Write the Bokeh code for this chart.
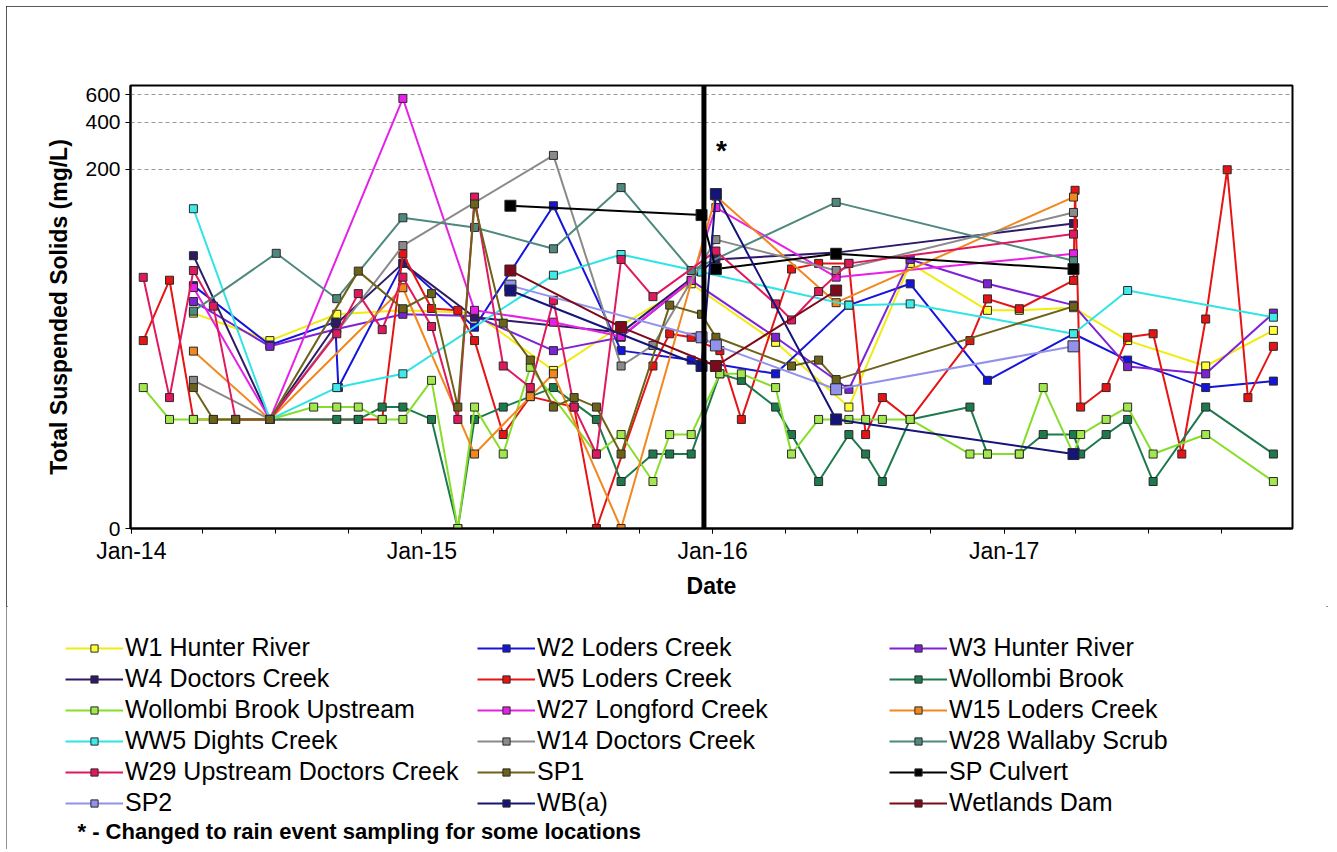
import datetime as dt
import pandas as pd
from bokeh.plotting import figure
from bokeh.layouts import column
from bokeh.models import (ColumnDataSource, Range1d, FixedTicker, DatetimeTickFormatter,
                          Span, Label, Legend, LegendItem, NumeralTickFormatter)
from bokeh.embed import file_html
from bokeh.resources import INLINE

# ---------------- data (TSS mg/L; 0 = below detection, drawn on the "0" baseline) -------------
w1_dates = ["2014-03-20", "2014-06-24", "2014-09-16", "2014-12-08", "2015-03-08", "2015-06-15",
            "2015-09-08", "2015-12-05", "2016-03-20", "2016-06-20", "2016-09-05", "2016-12-11",
            "2017-01-20", "2017-03-29", "2017-06-05", "2017-09-11", "2017-12-05"]
w1_tss = [24, 16, 23.6, 25, 24, 10.3, 20, 37, 15.6, 6, 50, 25, 25, 26, 16, 11, 18.6]

w2_dates = ["2014-03-20", "2014-06-24", "2014-09-14", "2014-09-18", "2014-12-08", "2015-03-08",
            "2015-06-15", "2015-09-08", "2015-12-05", "2016-03-20", "2016-06-20", "2016-09-05",
            "2016-12-11", "2017-03-29", "2017-06-05", "2017-09-11", "2017-12-05"]
w2_tss = [36, 15, 21, 8, 50, 19.5, 117, 13.8, 12, 9.8, 27, 37, 8.9, 17.7, 12, 8, 8.8]

w3_dates = ["2014-03-20", "2014-06-24", "2014-09-16", "2014-12-08", "2015-03-08", "2015-06-15",
            "2015-09-08", "2015-12-05", "2016-03-20", "2016-06-20", "2016-09-05", "2016-12-11",
            "2017-03-29", "2017-06-05", "2017-09-11", "2017-12-05"]
w3_tss = [28.5, 14.7, 19, 23.6, 23, 13.8, 16.8, 38.9, 16.8, 7.8, 53, 37, 27, 10.9, 9.8, 24]

w4_dates = ["2014-03-20", "2014-06-24", "2014-09-16", "2014-12-08", "2015-03-08", "2015-09-08",
            "2016-01-05", "2016-06-04", "2017-03-29"]
w4_tss = [56, 5, 20.6, 50, 22.6, 18, 53, 58.6, 90]

w5_dates = ["2014-01-16", "2014-02-18", "2014-03-20", "2014-06-24", "2014-10-13", "2014-11-12",
            "2014-12-08", "2015-01-13", "2015-02-15", "2015-03-08", "2015-04-13", "2015-05-17",
            "2015-07-11", "2015-08-08", "2015-10-18", "2015-11-08", "2015-12-05", "2016-01-10",
            "2016-02-06", "2016-04-09", "2016-05-13", "2016-06-20", "2016-07-11", "2016-08-01",
            "2016-09-05", "2016-11-19", "2016-12-11", "2017-01-20", "2017-03-29", "2017-03-31",
            "2017-04-07", "2017-05-09", "2017-06-05", "2017-07-07", "2017-08-12", "2017-09-11",
            "2017-10-08", "2017-11-03", "2017-12-05"]
w5_tss = [16, 39, 5, 5, 5, 5, 57.6, 25.7, 25, 16, 4, 7, 6, 0, 11, 17.7, 16.8, 13.8, 5, 46, 50, 50,
          4, 6.9, 5, 16, 29.6, 25.6, 38.9, 147, 6, 8, 16.8, 17.7, 3, 22, 199, 6.9, 14.7]

wb_dates = ["2014-06-24", "2014-09-16", "2014-10-13", "2014-11-12", "2014-12-08", "2015-01-13",
            "2015-02-15", "2015-03-08", "2015-04-13", "2015-06-15", "2015-08-08", "2015-09-08",
            "2015-10-18", "2015-11-08", "2015-12-05", "2016-01-10", "2016-02-06", "2016-03-20",
            "2016-04-09", "2016-05-13", "2016-06-20", "2016-07-11", "2016-08-01", "2016-09-05",
            "2016-11-19", "2016-12-11", "2017-01-20", "2017-02-19", "2017-03-29", "2017-04-07",
            "2017-05-09", "2017-06-05", "2017-07-07", "2017-09-11", "2017-12-05"]
wb_tss = [5, 5, 5, 6, 6, 5, 0, 5, 6, 8, 5, 2, 3, 3, 3, 9.8, 8.9, 6, 4, 2, 4, 3, 2, 5, 6, 3, 3, 4,
          4, 3, 4, 5, 2, 6, 3]

wbu_dates = ["2014-01-16", "2014-02-18", "2014-03-20", "2014-04-14", "2014-05-12", "2014-06-24",
             "2014-08-18", "2014-09-16", "2014-10-13", "2014-11-12", "2014-12-08", "2015-01-13",
             "2015-02-15", "2015-03-08", "2015-04-13", "2015-05-17", "2015-08-08", "2015-09-08",
             "2015-10-18", "2015-11-08", "2015-12-05", "2016-01-10", "2016-02-06", "2016-03-20",
             "2016-04-09", "2016-05-13", "2016-06-20", "2016-07-11", "2016-08-01", "2016-09-05",
             "2016-11-19", "2016-12-11", "2017-01-20", "2017-02-19", "2017-03-29", "2017-04-07",
             "2017-05-09", "2017-06-05", "2017-07-07", "2017-09-11", "2017-12-05"]
wbu_tss = [8, 5, 5, 5, 5, 5, 6, 6, 6, 5, 5, 8.9, 0, 6, 3, 10.8, 3, 4, 2, 4, 4, 9.8, 9.8, 8, 3, 5,
           5, 5, 5, 5, 3, 3, 3, 8, 3, 4, 5, 6, 3, 4, 2]

w27_dates = ["2014-03-20", "2014-06-24", "2014-12-08", "2015-03-08", "2015-06-15", "2015-09-08",
             "2015-12-05", "2016-01-05", "2016-06-04", "2017-03-29"]
w27_tss = [35, 5, 570, 25, 21, 17, 38.9, 114, 40.8, 57.6]

w15_dates = ["2014-03-20", "2014-06-24", "2014-12-08", "2015-03-08", "2015-05-17", "2015-06-15",
             "2015-09-08", "2016-01-05", "2016-06-04", "2017-03-29"]
w15_tss = [13.7, 5, 34.9, 3, 7, 9.8, 0, 135, 28, 133]

ww5_dates = ["2014-03-20", "2014-06-24", "2014-09-16", "2014-12-08", "2015-06-15", "2015-09-08",
             "2015-12-18", "2016-06-20", "2016-09-05", "2017-03-29", "2017-06-05", "2017-12-05"]
ww5_tss = [112, 5, 8, 9.8, 42, 57, 44, 27, 27.5, 17.7, 33.5, 22.6]

w14_dates = ["2014-03-20", "2014-06-24", "2014-12-08", "2015-06-15", "2015-09-08", "2015-10-18",
             "2016-01-05", "2016-06-04", "2017-03-29"]
w14_tss = [8.9, 5, 65, 246, 11, 14.9, 71, 45, 106]

w28_dates = ["2014-03-20", "2014-07-02", "2014-09-16", "2014-12-08", "2015-03-08", "2015-06-15",
             "2015-09-08", "2015-12-05", "2016-06-04", "2017-03-29"]
w28_tss = [24.7, 58, 29.7, 98, 85, 62, 153, 45, 123, 52]

w29_dates = ["2014-01-16", "2014-02-18", "2014-03-20", "2014-04-14", "2014-05-12", "2014-06-24",
             "2014-09-16", "2014-10-13", "2014-11-12", "2014-12-08", "2015-01-13", "2015-02-15",
             "2015-03-08", "2015-04-13", "2015-05-17", "2015-06-15", "2015-07-11", "2015-08-08",
             "2015-09-08", "2015-10-18", "2016-01-05", "2016-03-20", "2016-04-09", "2016-05-13",
             "2016-06-20", "2017-03-29"]
w29_tss = [40.7, 6.9, 45, 26.6, 5, 5, 17.7, 32, 18.8, 40.8, 19.7, 5, 133, 11, 8, 29, 6, 3, 53,
           30.6, 60, 27.5, 21.7, 33, 50, 77]

sp1_dates = ["2014-03-20", "2014-04-14", "2014-05-12", "2014-06-24", "2014-10-13", "2014-12-08",
             "2015-01-13", "2015-02-15", "2015-03-08", "2015-04-13", "2015-05-17", "2015-06-15",
             "2015-07-11", "2015-08-08", "2015-09-08", "2015-11-08", "2015-12-18", "2016-01-05",
             "2016-04-09", "2016-05-13", "2016-06-04", "2017-03-29"]
sp1_tss = [8, 5, 5, 5, 44.6, 25.6, 32, 6, 120, 20.7, 12, 6, 6.9, 6, 3, 27, 23.6, 16.8, 11, 12, 9,
           26.5]

spc_dates = ["2015-04-22", "2015-12-18", "2016-01-05", "2016-06-04", "2017-03-29"]
spc_tss = [117, 102, 46, 57.6, 46]

sp2_dates = ["2015-04-22", "2015-12-18", "2016-01-05", "2016-06-04", "2017-03-29"]
sp2_tss = [36, 16.8, 14.9, 7.8, 14.7]

wba_dates = ["2015-04-22", "2015-12-18", "2016-01-05", "2016-06-04", "2017-03-29"]
wba_tss = [33.5, 11, 139, 5, 3]

wd_dates = ["2015-04-22", "2015-09-08", "2016-01-05", "2016-06-04"]
wd_tss = [45, 19.5, 11, 33.5]

# name, dates, values, line colour, marker fill, marker size
series = [
    ("W1 Hunter River", w1_dates, w1_tss, "#F0EC10", "#FFFF38", 8),
    ("W2 Loders Creek", w2_dates, w2_tss, "#1414DC", "#1414DC", 8),
    ("W3 Hunter River", w3_dates, w3_tss, "#7E22D6", "#7E22D6", 8),
    ("W4 Doctors Creek", w4_dates, w4_tss, "#2E1A66", "#2E1A66", 8),
    ("W5 Loders Creek", w5_dates, w5_tss, "#E61414", "#E61414", 8),
    ("Wollombi Brook", wb_dates, wb_tss, "#1E7A4C", "#1E7A4C", 8),
    ("Wollombi Brook Upstream", wbu_dates, wbu_tss, "#86DE2A", "#A2E84C", 8),
    ("W27 Longford Creek", w27_dates, w27_tss, "#E621E6", "#E621E6", 8),
    ("W15 Loders Creek", w15_dates, w15_tss, "#F2871E", "#F2871E", 8),
    ("WW5 Dights Creek", ww5_dates, ww5_tss, "#2EE4E4", "#3EEAEA", 8),
    ("W14 Doctors Creek", w14_dates, w14_tss, "#8A8A8A", "#8A8A8A", 8),
    ("W28 Wallaby Scrub", w28_dates, w28_tss, "#4E887E", "#4E887E", 8),
    ("W29 Upstream Doctors Creek", w29_dates, w29_tss, "#E0185E", "#E0185E", 8),
    ("SP1", sp1_dates, sp1_tss, "#6C6218", "#6C6218", 8),
    ("SP Culvert", spc_dates, spc_tss, "#000000", "#000000", 11),
    ("SP2", sp2_dates, sp2_tss, "#9292EC", "#9292EC", 11),
    ("WB(a)", wba_dates, wba_tss, "#14147A", "#14147A", 11),
    ("Wetlands Dam", wd_dates, wd_tss, "#7C0A1A", "#7C0A1A", 11),
]

tick_years = [2014, 2015, 2016, 2017]
y_ticks = [1, 200, 400, 600]
y_tick_labels = ["0", "200", "400", "600"]
change_date = "2015-12-21"
footnote = "* - Changed to rain event sampling for some locations"

# ---------------- chart -------------------------------------------------------------
FONT = "Liberation Sans"
EPOCH = dt.datetime(1970, 1, 1)


def ms(d):
    return (d - EPOCH).total_seconds() * 1000.0


p = figure(width=1322, height=600, x_axis_type="datetime", y_axis_type="log",
           x_range=Range1d(dt.datetime(2013, 12, 31), dt.datetime(2017, 12, 29)),
           y_range=Range1d(1, 690), output_backend="svg", toolbar_location=None,
           min_border_left=124, min_border_right=36, min_border_top=79, min_border_bottom=78,
           background_fill_color="white", border_fill_color="white")
p.frame_align = False
p.outline_line_color = "black"
p.outline_line_width = 2

p.xaxis.ticker = FixedTicker(
    ticks=[ms(dt.datetime(y, 1, 1)) for y in tick_years],
    minor_ticks=[ms(dt.datetime(y, m, 1)) for y in range(2014, 2018) for m in (1, 4, 7, 10)])
p.xaxis.formatter = DatetimeTickFormatter(years="%b-%y", months="%b-%y", days="%b-%y",
                                          hours="%b-%y", minutes="%b-%y")
p.yaxis.ticker = FixedTicker(ticks=y_ticks, minor_ticks=[])
p.yaxis.formatter = NumeralTickFormatter(format="0")
p.yaxis.major_label_overrides = dict(zip(y_ticks, y_tick_labels))

for ax in (p.xaxis, p.yaxis):
    ax.axis_line_color = "black"
    ax.axis_line_width = 2
    ax.major_tick_in = 0
    ax.major_tick_out = 5
    ax.major_tick_line_color = "black"
    ax.minor_tick_in = 0
    ax.minor_tick_out = 5
    ax.minor_tick_line_color = "black"
    ax.major_label_text_font = FONT
    ax.major_label_text_color = "black"
    ax.axis_label_text_font = FONT
    ax.axis_label_text_font_size = "23px"
    ax.axis_label_text_font_style = "bold"
    ax.axis_label_text_color = "black"
p.xaxis.major_label_text_font_size = "23px"
p.yaxis.major_label_text_font_size = "21px"
p.yaxis.minor_tick_line_color = None
p.xaxis.axis_label = "Date"
p.yaxis.axis_label = "Total Suspended Solids (mg/L)"
p.xaxis.axis_label_standoff = 6
p.yaxis.axis_label_standoff = 10
p.xaxis.major_label_standoff = 4

p.xgrid.visible = False
p.ygrid.ticker = FixedTicker(ticks=[200, 400, 600])
p.ygrid.grid_line_color = "#9a9a9a"
p.ygrid.grid_line_dash = "4 3"
p.ygrid.grid_line_width = 1

for name, dates, vals, lc, fc, size in series:
    src = ColumnDataSource(dict(x=pd.to_datetime(dates), y=[max(v, 1) for v in vals]))
    p.line("x", "y", source=src, line_color=lc, line_width=2)
    p.scatter("x", "y", source=src, marker="square", size=size, fill_color=fc,
              line_color="#2a2a2a", line_width=1)

p.add_layout(Span(location=ms(dt.datetime.fromisoformat(change_date)), dimension="height",
                  line_color="black", line_width=5))
p.add_layout(Label(x=ms(dt.datetime(2016, 1, 12)), y=265, text="*", text_font=FONT,
                   text_font_size="28px", text_font_style="bold", text_align="center",
                   text_baseline="middle", text_color="black"))

# ---------------- legend panel (a second, axis-less figure) ---------------------------
q = figure(width=1322, height=243, x_range=Range1d(0, 1322), y_range=Range1d(0, 243),
           x_axis_type=None, y_axis_type=None, output_backend="svg", toolbar_location=None,
           min_border_left=0, min_border_right=0, min_border_top=0, min_border_bottom=0,
           background_fill_color="white", border_fill_color="white")
q.frame_align = False
q.outline_line_color = None
q.xgrid.visible = False
q.ygrid.visible = False

items = []
for name, dates, vals, lc, fc, size in series:
    # off-screen stand-ins that carry each series' style into the legend
    lr = q.line([-500, -400], [-500, -400], line_color=lc, line_width=2)
    sr = q.scatter([-500], [-500], marker="square", size=size, fill_color=fc,
                   line_color="#2a2a2a", line_width=1)
    items.append(LegendItem(label=name, renderers=[lr, sr]))

# three columns of six, read across rows as in the original
col_order = [items[r * 3 + c] for c in range(3) for r in range(6)]
legend = Legend(items=col_order, location=(59, 32), orientation="vertical", nrows=6,
                label_text_font=FONT, label_text_font_size="25px", label_text_color="black",
                glyph_width=58, glyph_height=18, label_height=28, label_width=350,
                label_standoff=2, spacing=2, padding=0, margin=0,
                border_line_color=None, background_fill_alpha=0)
q.add_layout(legend)
q.add_layout(Label(x=71, y=18, text=footnote, text_font=FONT, text_font_size="22px",
                   text_font_style="bold", text_baseline="middle", text_align="left",
                   text_color="black"))

page = column(p, q, spacing=0,
              styles={"margin": "6px 0 0 6px", "outline": "2px solid #222222",
                      "outline-offset": "-2px"})

open("out.html", "w").write(file_html(page, INLINE))
